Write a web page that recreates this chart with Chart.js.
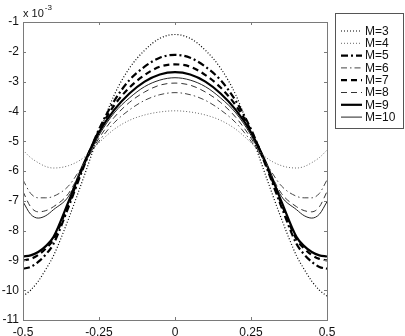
<!DOCTYPE html>
<html>
<head>
<meta charset="utf-8">
<script src="https://cdn.jsdelivr.net/npm/chart.js@4/dist/chart.umd.min.js"></script>
<style>
html,body{margin:0;padding:0;background:#fff;}
#wrap{width:405px;height:336px;position:relative;}
</style>
</head>
<body>
<div id="wrap"><canvas id="c" width="405" height="336"></canvas></div>
<script>
// x positions (shared by all series)
const xs = [-0.5,-0.475,-0.45,-0.425,-0.4,-0.35,-0.3,-0.25,-0.2,-0.15,-0.1,-0.05,0,
            0.05,0.1,0.15,0.2,0.25,0.3,0.35,0.4,0.425,0.45,0.475,0.5];
// values in units of 1e-3
const m3  = [-10.2,-10.0,-9.7,-9.3,-8.85,-7.6,-6.2,-4.75,-3.45,-2.55,-1.95,-1.55,-1.42,
             -1.55,-1.95,-2.55,-3.45,-4.75,-6.2,-7.6,-8.85,-9.3,-9.7,-10.0,-10.2];
const m4  = [-5.3,-5.55,-5.72,-5.85,-5.9,-5.82,-5.55,-5.05,-4.6,-4.3,-4.12,-4.02,-3.98,
             -4.02,-4.12,-4.3,-4.6,-5.05,-5.55,-5.82,-5.9,-5.85,-5.72,-5.55,-5.3];
const m5  = [-9.28,-9.22,-9.05,-8.8,-8.45,-7.2,-5.85,-4.6,-3.65,-2.95,-2.5,-2.2,-2.1,
             -2.2,-2.5,-2.95,-3.65,-4.6,-5.85,-7.2,-8.45,-8.8,-9.05,-9.22,-9.28];
const m6  = [-6.3,-6.75,-6.9,-6.9,-6.85,-6.5,-5.75,-5.0,-4.38,-3.95,-3.63,-3.44,-3.37,
             -3.44,-3.63,-3.95,-4.38,-5.0,-5.75,-6.5,-6.85,-6.9,-6.9,-6.75,-6.3];
const m7  = [-9.0,-8.95,-8.82,-8.6,-8.3,-7.1,-5.8,-4.65,-3.8,-3.2,-2.78,-2.5,-2.42,
             -2.5,-2.78,-3.2,-3.8,-4.65,-5.8,-7.1,-8.3,-8.6,-8.82,-8.95,-9.0];
const m8  = [-6.69,-7.2,-7.37,-7.33,-7.2,-6.75,-5.8,-4.9,-4.2,-3.7,-3.35,-3.12,-3.05,
             -3.12,-3.35,-3.7,-4.2,-4.9,-5.8,-6.75,-7.2,-7.33,-7.37,-7.2,-6.69];
const m9  = [-8.87,-8.83,-8.72,-8.52,-8.22,-7.02,-5.75,-4.7,-3.95,-3.4,-3.0,-2.76,-2.68,
             -2.76,-3.0,-3.4,-3.95,-4.7,-5.75,-7.02,-8.22,-8.52,-8.72,-8.83,-8.87];
const m10 = [-7.03,-7.45,-7.58,-7.5,-7.3,-6.85,-5.8,-4.8,-4.05,-3.55,-3.17,-2.95,-2.87,
             -2.95,-3.17,-3.55,-4.05,-4.8,-5.8,-6.85,-7.3,-7.5,-7.58,-7.45,-7.03];
const seriesNames = ["M=3","M=4","M=5","M=6","M=7","M=8","M=9","M=10"];
const xTicks = [-0.5,-0.25,0,0.25,0.5];
const yTicks = [-1,-2,-3,-4,-5,-6,-7,-8,-9,-10,-11];
const exponentLabel = "x 10";
const exponentSup = "-3";

const allSeries = [m3,m4,m5,m6,m7,m8,m9,m10];
const styles = [
  {c:'#000', w:1.2, d:[1,2]},
  {c:'#666', w:1,   d:[1,2]},
  {c:'#000', w:2.2, d:[7,3,2,3]},
  {c:'#444', w:1,   d:[6,3,1.5,3]},
  {c:'#000', w:2.2, d:[6,4]},
  {c:'#333', w:1,   d:[6,4]},
  {c:'#000', w:2.2, d:[]},
  {c:'#222', w:1,   d:[]}
];
const datasets = allSeries.map((s,i)=>({
  label: seriesNames[i],
  data: xs.map((x,j)=>({x:x,y:s[j]})),
  borderColor: styles[i].c,
  borderWidth: styles[i].w,
  borderDash: styles[i].d,
  pointRadius: 0,
  fill: false,
  tension: 0.4,
  cubicInterpolationMode: 'monotone'
}));

const FONT = "'Liberation Sans', Arial, sans-serif";

const decor = {
  id: 'decor',
  afterDraw(chart) {
    const ctx = chart.ctx;
    const a = chart.chartArea;
    const xs_ = chart.scales.x, ys_ = chart.scales.y;
    ctx.save();
    ctx.strokeStyle = '#7a7a7a';
    ctx.lineWidth = 1;
    ctx.setLineDash([]);
    ctx.strokeRect(Math.round(a.left)+0.5, Math.round(a.top)+0.5, Math.round(a.right-a.left), Math.round(a.bottom-a.top));
    const tl = 3;
    ctx.beginPath();
    xTicks.forEach(v=>{
      const px = Math.round(xs_.getPixelForValue(v))+0.5;
      ctx.moveTo(px, a.bottom); ctx.lineTo(px, a.bottom-tl);
      ctx.moveTo(px, a.top); ctx.lineTo(px, a.top+tl);
    });
    yTicks.forEach(v=>{
      const py = Math.round(ys_.getPixelForValue(v))+0.5;
      ctx.moveTo(a.left, py); ctx.lineTo(a.left+tl, py);
      ctx.moveTo(a.right, py); ctx.lineTo(a.right-tl, py);
    });
    ctx.stroke();
    // exponent label
    ctx.fillStyle = '#111';
    ctx.textBaseline = 'alphabetic';
    ctx.textAlign = 'left';
    ctx.font = '11px ' + FONT;
    ctx.fillText(exponentLabel, a.left, a.top-5);
    const w = ctx.measureText(exponentLabel).width;
    ctx.font = '8px ' + FONT;
    ctx.fillText(exponentSup, a.left+w+1, a.top-12);
    // legend
    const bx = 335, by = 13, bw = 68, bh = 115;
    ctx.fillStyle = '#fff';
    ctx.fillRect(bx, by, bw, bh);
    ctx.strokeStyle = '#555';
    ctx.strokeRect(bx+0.5, by+0.5, bw, bh);
    chart.data.datasets.forEach((ds,i)=>{
      const y = 31 + i*12.3;
      ctx.beginPath();
      ctx.strokeStyle = ds.borderColor;
      ctx.lineWidth = ds.borderWidth;
      ctx.setLineDash(ds.borderDash);
      ctx.moveTo(341, y); ctx.lineTo(362, y);
      ctx.stroke();
      ctx.setLineDash([]);
      ctx.fillStyle = '#111';
      ctx.font = '12px ' + FONT;
      ctx.textBaseline = 'middle';
      ctx.fillText(ds.label, 365, y+0.5);
    });
    ctx.restore();
  }
};

new Chart(document.getElementById('c'), {
  type: 'line',
  data: { datasets: datasets },
  options: {
    responsive: false,
    animation: false,
    devicePixelRatio: 1,
    layout: { padding: { top: 22, right: 78, left: 0, bottom: 0 } },
    plugins: { legend: { display: false }, tooltip: { enabled: false } },
    scales: {
      x: {
        type: 'linear', min: -0.5, max: 0.5,
        grid: { display: false, drawTicks: false },
        border: { display: false },
        afterBuildTicks: s => { s.ticks = xTicks.map(v=>({value:v})); },
        afterFit: s => { s.height = 16; },
        ticks: { autoSkip: false, maxRotation: 0, padding: 5, color: '#111',
                 font: { family: FONT, size: 12 },
                 callback: v => String(v) }
      },
      y: {
        type: 'linear', min: -11, max: -1,
        grid: { display: false, drawTicks: false },
        border: { display: false },
        afterBuildTicks: s => { s.ticks = yTicks.map(v=>({value:v})); },
        afterFit: s => { s.width = 23; },
        ticks: { autoSkip: false, padding: 4, color: '#111',
                 font: { family: FONT, size: 12 },
                 callback: v => String(v) }
      }
    }
  },
  plugins: [decor]
});
</script>
</body>
</html>
